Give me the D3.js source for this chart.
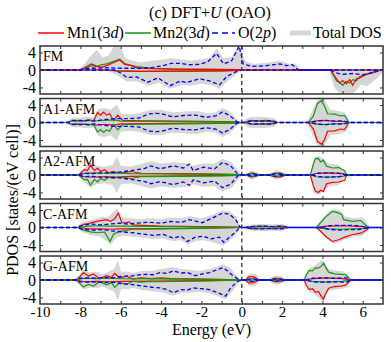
<!DOCTYPE html>
<html>
<head>
<meta charset="utf-8">
<script src="https://cdn.jsdelivr.net/npm/d3@7"></script>
<style>
  body { margin: 0; background: #fff; }
  svg { display: block; font-family: "Liberation Serif", "Times New Roman", serif; }
</style>
</head>
<body>
<svg id="chart" width="391" height="342"></svg>
<script>
// Axis labels / ticks
const panelNames = ['FM', 'A1-AFM', 'A2-AFM', 'C-AFM', 'G-AFM'];
const xTickLabels = [-10, -8, -6, -4, -2, 0, 2, 4, 6];
const yTickLabels = [-4, 0, 4];

// ---- FM ----  [energy, DOS]
const fmMn1Up = [[-8.0,0],[-7.7,0.8],[-7.45,1.4],[-7.2,0.9],[-6.95,0.6],[-6.7,1.0],[-6.45,1.5],[-6.05,2.3],[-5.8,1.3],[-5.45,1.0],[-5.2,0.5],[-4.5,0.3],[-3.4,0.2],[-0.1,0.1],[0,0]];
const fmMn1Dn = [[-6.6,0],[-6.2,-0.2],[-5,-0.3],[-3,-0.25],[-1,-0.2],[-0.2,-0.1],[0,0],[4.4,0],[4.7,-2.0],[4.85,-3.0],[5.0,-2.4],[5.18,-3.2],[5.35,-2.2],[5.5,-3.5],[5.68,-2.0],[5.85,-1.8],[6.1,-1.2],[6.5,-0.5],[6.9,0]];
const fmMn2Up = [[-8.0,0],[-7.7,0.5],[-7.45,1.0],[-7.2,0.8],[-6.95,1.2],[-6.7,1.4],[-6.45,1.8],[-6.05,2.5],[-5.8,1.5],[-5.45,1.0],[-5.2,0.8],[-4.5,0.4],[-3.4,0.2],[-0.1,0.1],[0,0]];
const fmMn2Dn = [[-6.6,0],[-6.2,-0.2],[-5,-0.3],[-3,-0.25],[-1,-0.2],[-0.2,-0.1],[0,0],[4.4,0],[4.7,-2.5],[4.85,-2.8],[5.0,-3.5],[5.18,-2.6],[5.35,-3.0],[5.5,-2.2],[5.68,-2.5],[5.85,-1.5],[6.1,-1.0],[6.5,-0.6],[6.9,0]];
const fmOUp = [[-8.1,0],[-7.8,0.3],[-7.4,0.4],[-6.7,0.5],[-5.9,0.4],[-5.0,0.4],[-4.4,0.6],[-3.9,1.0],[-3.5,1.5],[-3.0,1.5],[-2.6,1.2],[-2.1,1.3],[-1.7,1.8],[-1.25,3.8],[-0.9,1.4],[-0.5,2.1],[-0.13,5.5],[0.07,1.4],[0.5,0.8],[1.2,1.0],[1.9,1.4],[2.2,1.0],[2.5,1.2],[2.7,0.5],[2.8,0]];
const fmODn = [[-6.3,0],[-5.95,-0.8],[-5.7,-1.7],[-5.2,-1.6],[-4.65,-2.8],[-4.15,-1.8],[-3.55,-3.6],[-3.05,-2.5],[-2.75,-2.9],[-2.1,-2.0],[-1.6,-2.5],[-1.1,-3.4],[-0.75,-1.5],[-0.25,-0.3],[0,0],[4.45,0],[4.6,-0.6],[5.0,-1.0],[5.5,-0.8],[6.0,-1.1],[6.5,-0.6],[6.9,0]];
const fmTotUp = [[-8.1,0],[-7.8,1.2],[-7.5,3.0],[-7.2,4.5],[-6.9,2.8],[-6.6,3.2],[-6.3,5.5],[-6.0,5.2],[-5.8,2.6],[-5.4,2.0],[-5.0,1.6],[-4.5,2.0],[-4.0,2.2],[-3.5,2.6],[-3.0,2.3],[-2.5,2.0],[-2.0,2.3],[-1.6,2.6],[-1.25,4.8],[-0.9,2.5],[-0.5,2.8],[-0.15,5.5],[0.05,3.0],[0.2,1.8],[0.6,1.3],[1.2,1.5],[1.9,2.0],[2.3,1.4],[2.7,1.3],[2.85,0]];
const fmTotDn = [[-6.7,0],[-6.2,-1.0],[-5.7,-2.5],[-5.2,-2.5],[-4.65,-3.5],[-4.1,-2.8],[-3.55,-4.2],[-3.0,-3.4],[-2.5,-3.5],[-2.0,-3.0],[-1.5,-3.4],[-1.1,-4.2],[-0.7,-2.4],[-0.3,-1.0],[0,0],[4.35,0],[4.6,-4.0],[4.9,-5.5],[5.3,-5.5],[5.6,-5.0],[5.9,-3.2],[6.2,-3.6],[6.6,-2.2],[6.95,-0.6],[7.0,0]];

// ---- A1-AFM ----
const a1Mn1Up = [[-8.6,0],[-8.4,0.5],[-8.2,0.3],[-8.0,0.5],[-7.8,0.3],[-7.6,0.6],[-7.35,0.4],[-7.15,2.3],[-7.0,1.7],[-6.85,2.4],[-6.7,1.7],[-6.55,2.0],[-6.35,0.4],[-6.15,1.7],[-5.9,0.5],[-5,0.4],[-3,0.3],[-1,0.2],[-0.2,0.1],[0,0],[0.15,0],[0.4,0.5],[0.8,0.4],[1.2,0.5],[1.6,0.3],[1.75,0],[3.3,0],[3.6,0.3],[4.0,0.5],[4.6,0.3],[5.2,0.2],[5.3,0]];
const a1Mn1Dn = [[-8.6,0],[-8.4,-0.5],[-8.2,-0.3],[-8.0,-0.5],[-7.6,-0.4],[-7.2,-0.6],[-6.8,-0.4],[-6.3,-0.6],[-6.0,-0.3],[-3,-0.2],[-0.2,-0.1],[0,0],[0.15,0],[0.5,-0.4],[1.0,-0.3],[1.5,-0.3],[1.75,0],[3.3,0],[3.55,-1.5],[3.75,-4.3],[3.95,-5.0],[4.1,-4.0],[4.25,-2.0],[4.6,-1.9],[4.9,-1.5],[5.1,-1.6],[5.3,0]];
const a1Mn2Up = [[-8.6,0],[-8.4,0.5],[-8.0,0.4],[-7.6,0.5],[-7.2,0.4],[-6.8,0.5],[-6.3,0.6],[-6.0,0.3],[-3,0.2],[-0.2,0.1],[0,0],[0.15,0],[0.5,0.3],[1.2,0.3],[1.75,0],[3.3,0],[3.55,1.5],[3.75,4.3],[3.95,5.0],[4.1,3.8],[4.25,2.0],[4.6,1.9],[4.9,1.5],[5.1,1.6],[5.3,0]];
const a1Mn2Dn = [[-8.6,0],[-8.4,-0.5],[-8.2,-0.3],[-8.0,-0.5],[-7.8,-0.3],[-7.6,-0.6],[-7.35,-0.4],[-7.15,-2.2],[-7.0,-1.6],[-6.85,-2.3],[-6.7,-1.7],[-6.55,-2.0],[-6.35,-0.4],[-6.15,-1.7],[-5.9,-0.5],[-5,-0.4],[-3,-0.3],[-1,-0.2],[-0.2,-0.1],[0,0],[0.15,0],[0.5,-0.4],[1.2,-0.4],[1.75,0],[3.3,0],[3.6,-0.3],[4.0,-0.5],[4.6,-0.3],[5.2,-0.2],[5.3,0]];
const a1OUp = [[-8.6,0],[-8.4,0.4],[-8.2,0.5],[-7.9,0.4],[-7.6,0.5],[-7.3,0.3],[-6.9,0.6],[-6.5,0.8],[-6.2,0.9],[-5.6,0.9],[-5.1,1.0],[-4.6,2.0],[-4.2,2.1],[-3.9,1.9],[-3.4,1.3],[-2.9,1.6],[-2.3,1.7],[-1.8,1.2],[-1.3,1.5],[-0.95,2.4],[-0.6,1.6],[-0.2,0],[0.15,0],[0.5,0.4],[1.0,0.3],[1.5,0.4],[1.75,0],[3.4,0],[3.8,0.4],[4.2,0.5],[4.6,0.3],[5.0,0.4],[5.3,0]];
const a1ODn = [[-8.6,0],[-8.4,-0.4],[-8.2,-0.5],[-7.9,-0.4],[-7.6,-0.5],[-7.3,-0.3],[-6.9,-0.6],[-6.5,-0.8],[-6.2,-0.9],[-5.6,-0.9],[-5.1,-1.0],[-4.6,-2.0],[-4.2,-2.1],[-3.9,-1.9],[-3.4,-1.3],[-2.9,-1.6],[-2.3,-1.7],[-1.8,-1.2],[-1.3,-1.5],[-0.95,-2.4],[-0.6,-1.6],[-0.2,0],[0.15,0],[0.5,-0.4],[1.0,-0.3],[1.5,-0.4],[1.75,0],[3.4,0],[3.8,-0.4],[4.2,-0.5],[4.6,-0.3],[5.0,-0.4],[5.3,0]];
const a1TotUp = [[-8.7,0],[-8.4,1.0],[-8.0,1.0],[-7.6,1.2],[-7.3,1.0],[-7.1,3.0],[-6.8,3.2],[-6.5,2.8],[-6.2,4.0],[-6.0,2.0],[-5.6,1.8],[-5.1,2.0],[-4.5,2.8],[-4.0,2.8],[-3.4,2.2],[-2.8,2.4],[-2.2,2.5],[-1.7,2.0],[-1.3,2.2],[-0.95,3.2],[-0.6,2.4],[-0.3,1.0],[-0.1,0],[0.05,0],[0.3,1.0],[0.7,1.2],[1.2,1.1],[1.6,0.9],[1.8,0],[3.25,0],[3.5,2.5],[3.75,5.0],[4.0,5.5],[4.2,4.2],[4.4,2.8],[4.8,2.5],[5.1,2.2],[5.35,0]];
const a1TotDn = [[-8.7,0],[-8.4,-1.0],[-8.0,-1.0],[-7.6,-1.2],[-7.3,-1.0],[-7.1,-3.0],[-6.8,-3.2],[-6.5,-2.8],[-6.2,-4.0],[-6.0,-2.0],[-5.6,-1.8],[-5.1,-2.0],[-4.5,-2.8],[-4.0,-2.8],[-3.4,-2.2],[-2.8,-2.4],[-2.2,-2.5],[-1.7,-2.0],[-1.3,-2.2],[-0.95,-3.2],[-0.6,-2.4],[-0.3,-1.0],[-0.1,0],[0.05,0],[0.3,-1.0],[0.7,-1.2],[1.2,-1.1],[1.6,-0.9],[1.8,0],[3.25,0],[3.5,-2.5],[3.75,-5.0],[4.0,-5.5],[4.2,-4.2],[4.4,-2.8],[4.8,-2.5],[5.1,-2.2],[5.35,0]];

// ---- A2-AFM ----
const a2Mn1Up = [[-8.1,0],[-7.8,1.2],[-7.65,1.0],[-7.5,2.2],[-7.3,1.0],[-7.15,1.6],[-7.0,0.8],[-6.8,1.2],[-6.6,0.5],[-6.4,0.8],[-6.1,0.5],[-5.8,0.6],[-5.5,0.8],[-5.0,0.4],[-3.0,0.3],[-1,0.2],[-0.2,0.1],[0,0],[0.2,0],[0.5,0.5],[0.9,0],[1.35,0],[1.6,0.4],[1.9,0.5],[2.2,0],[3.4,0],[3.7,0.4],[4.3,0.5],[5.0,0.3],[5.2,0]];
const a2Mn1Dn = [[-8.1,0],[-7.8,-0.4],[-7.3,-0.5],[-6.8,-0.4],[-6.2,-0.5],[-5.5,-0.3],[-3,-0.2],[-0.2,-0.1],[0,0],[0.2,0],[0.5,-0.5],[0.9,0],[1.35,0],[1.6,-0.4],[1.9,-0.5],[2.2,0],[3.4,0],[3.55,-2.5],[3.65,-3.7],[3.8,-4.0],[3.9,-3.5],[4.05,-3.8],[4.2,-2.0],[4.5,-1.7],[4.8,-1.6],[5.1,-1.2],[5.2,0]];
const a2Mn2Up = [[-8.1,0],[-7.8,0.4],[-7.3,0.5],[-6.8,0.4],[-6.2,0.5],[-5.5,0.3],[-3,0.2],[-0.2,0.1],[0,0],[0.2,0],[0.5,0.3],[0.9,0],[1.35,0],[1.7,0.3],[2.2,0],[3.4,0],[3.55,2.5],[3.65,3.7],[3.8,3.8],[3.9,3.0],[4.05,3.4],[4.2,2.0],[4.5,1.6],[4.8,1.7],[5.1,1.0],[5.2,0]];
const a2Mn2Dn = [[-8.1,0],[-7.8,-1.1],[-7.65,-1.0],[-7.5,-2.3],[-7.3,-1.0],[-7.15,-1.6],[-7.0,-0.8],[-6.8,-1.2],[-6.6,-0.5],[-6.4,-0.8],[-6.1,-0.5],[-5.8,-0.6],[-5.5,-0.8],[-5.0,-0.4],[-3,-0.3],[-1,-0.2],[-0.2,-0.1],[0,0],[0.2,0],[0.5,-0.3],[0.9,0],[1.35,0],[1.7,-0.3],[2.2,0],[3.4,0],[3.7,-0.4],[4.3,-0.5],[5.0,-0.3],[5.2,0]];
const a2OUp = [[-8.1,0],[-7.8,0.4],[-7.4,0.3],[-7.0,0.5],[-6.5,0.5],[-6.0,0.7],[-5.5,1.0],[-4.8,1.5],[-4.5,2.1],[-4.05,1.4],[-3.4,2.1],[-2.9,1.6],[-2.6,2.5],[-2.4,1.0],[-1.9,1.8],[-1.35,1.4],[-0.95,2.9],[-0.55,2.1],[-0.2,0.2],[0,0],[0.2,0],[0.5,0.3],[0.9,0],[1.35,0],[1.7,0.3],[2.2,0],[3.5,0],[3.8,0.4],[4.3,0.5],[4.8,0.4],[5.2,0]];
const a2ODn = [[-8.1,0],[-7.8,-0.4],[-7.4,-0.3],[-7.0,-0.5],[-6.5,-0.5],[-6.0,-0.7],[-5.5,-1.0],[-4.8,-1.5],[-4.5,-2.0],[-4.05,-1.5],[-3.4,-2.2],[-2.9,-1.6],[-2.6,-2.4],[-2.4,-1.1],[-1.9,-1.8],[-1.35,-1.4],[-0.95,-2.9],[-0.55,-2.1],[-0.2,-0.2],[0,0],[0.2,0],[0.5,-0.3],[0.9,0],[1.35,0],[1.7,-0.3],[2.2,0],[3.5,0],[3.8,-0.4],[4.3,-0.5],[4.8,-0.4],[5.2,0]];
const a2TotUp = [[-8.1,0],[-7.8,1.5],[-7.5,2.8],[-7.2,2.0],[-6.8,1.8],[-6.4,2.2],[-6.2,4.0],[-6.0,2.0],[-5.5,1.8],[-5.0,2.4],[-4.5,3.0],[-4.0,2.5],[-3.4,2.8],[-2.8,2.6],[-2.4,2.0],[-1.9,2.6],[-1.4,2.4],[-0.95,3.6],[-0.5,2.8],[-0.2,1.0],[0,0],[0.15,0],[0.5,1.0],[0.95,0],[1.3,0],[1.7,1.0],[2.25,0],[3.4,0],[3.6,4.0],[3.8,4.2],[4.0,3.8],[4.3,2.5],[4.8,2.2],[5.2,0]];
const a2TotDn = [[-8.1,0],[-7.8,-1.5],[-7.5,-2.8],[-7.2,-2.0],[-6.8,-1.8],[-6.4,-2.2],[-6.2,-4.0],[-6.0,-2.0],[-5.5,-1.8],[-5.0,-2.4],[-4.5,-3.0],[-4.0,-2.5],[-3.4,-2.8],[-2.8,-2.6],[-2.4,-2.0],[-1.9,-2.6],[-1.4,-2.4],[-0.95,-3.6],[-0.5,-2.8],[-0.2,-1.0],[0,0],[0.15,0],[0.5,-1.0],[0.95,0],[1.3,0],[1.7,-1.0],[2.25,0],[3.4,0],[3.6,-4.2],[3.8,-4.4],[4.0,-3.8],[4.3,-2.5],[4.8,-2.2],[5.2,0]];

// ---- C-AFM ----
const cMn1Up = [[-8.1,0],[-7.85,0.7],[-7.6,0.9],[-7.3,1.3],[-7.05,1.5],[-6.7,1.8],[-6.5,1.4],[-6.3,2.0],[-6.12,3.3],[-5.95,1.2],[-5.8,1.0],[-5.6,1.3],[-5.4,0.6],[-5.0,0.5],[-4.0,0.3],[-2,0.2],[-0.2,0.1],[0,0],[0.15,0],[0.5,0.2],[1.0,0.3],[1.5,0.2],[2.0,0.3],[2.3,0],[3.7,0],[4.2,0.3],[5.0,0.4],[6.0,0.2],[6.3,0]];
const cMn1Dn = [[-8.1,0],[-7.6,-0.3],[-7,-0.3],[-6.5,-0.4],[-6,-0.3],[-3,-0.2],[0,0],[0.15,0],[0.5,-0.3],[1.0,-0.2],[1.5,-0.3],[2.0,-0.2],[2.3,0],[3.7,0],[3.9,-0.8],[4.2,-2.2],[4.5,-3.2],[4.8,-2.8],[5.1,-2.2],[5.5,-1.6],[5.9,-1.3],[6.2,-0.5],[6.3,0]];
const cMn2Up = [[-8.1,0],[-7.6,0.3],[-7,0.4],[-6.5,0.3],[-6,0.3],[-3,0.2],[0,0],[0.15,0],[0.6,0.2],[1.5,0.2],[2.3,0],[3.7,0],[3.85,0.8],[4.2,2.6],[4.5,3.7],[4.75,3.4],[4.95,3.0],[5.05,1.8],[5.5,1.4],[5.9,1.6],[6.2,0.3],[6.3,0]];
const cMn2Dn = [[-8.1,0],[-7.85,-0.6],[-7.5,-1.0],[-7.1,-1.2],[-6.8,-1.0],[-6.53,-3.2],[-6.35,-1.5],[-6.1,-1.0],[-5.8,-0.7],[-5.4,-0.4],[-4,-0.3],[-2,-0.2],[0,0],[0.15,0],[0.6,-0.2],[1.5,-0.2],[2.3,0],[3.7,0],[4.2,-0.3],[5.0,-0.4],[6.0,-0.2],[6.3,0]];
const cOUp = [[-8.2,0],[-7.9,0.5],[-7.5,0.8],[-7.0,0.6],[-6.5,0.8],[-6.1,1.0],[-5.7,0.8],[-5.2,1.0],[-4.6,1.2],[-4.0,1.0],[-3.5,1.4],[-3.0,1.2],[-2.6,1.8],[-1.95,1.1],[-1.45,2.2],[-0.95,3.3],[-0.6,3.0],[-0.3,1.8],[-0.1,0.2],[0,0],[0.15,0],[0.5,0.2],[1.0,0.3],[1.5,0.2],[2.0,0.3],[2.3,0],[4.0,0],[4.3,0.4],[4.8,0.5],[5.3,0.5],[5.8,0.4],[6.3,0]];
const cODn = [[-8.2,0],[-7.9,-0.4],[-7.4,-0.6],[-6.9,-0.5],[-6.4,-0.8],[-5.9,-1.0],[-5.4,-1.2],[-4.9,-1.5],[-4.4,-1.8],[-3.9,-1.6],[-3.4,-2.4],[-3.0,-2.0],[-2.7,-3.2],[-2.3,-2.2],[-1.9,-2.0],[-1.5,-2.6],[-1.1,-2.2],[-0.9,-3.4],[-0.6,-2.2],[-0.3,-1.0],[-0.1,0],[0.15,0],[0.5,-0.2],[1.0,-0.3],[1.5,-0.2],[2.0,-0.3],[2.3,0],[4.0,0],[4.3,-0.4],[4.8,-0.6],[5.3,-0.5],[5.8,-0.5],[6.3,0]];
const cTotUp = [[-8.2,0],[-7.9,1.2],[-7.5,1.6],[-7.0,2.2],[-6.6,2.4],[-6.2,4.2],[-5.9,2.2],[-5.5,2.0],[-5.0,1.8],[-4.5,2.0],[-4.0,1.8],[-3.5,2.2],[-3.0,2.0],[-2.6,2.5],[-2.0,2.0],[-1.45,2.8],[-0.95,3.8],[-0.6,3.6],[-0.3,2.4],[-0.1,0],[0.1,0],[0.5,0.6],[1.0,0.7],[1.5,0.6],[2.0,0.7],[2.35,0],[3.7,0],[4.0,2.0],[4.3,3.5],[4.55,4.2],[4.9,3.7],[5.1,2.4],[5.6,2.0],[6.0,2.2],[6.35,0]];
const cTotDn = [[-8.2,0],[-7.9,-1.0],[-7.5,-1.6],[-7.0,-2.0],[-6.5,-3.8],[-6.2,-2.2],[-5.9,-1.8],[-5.4,-2.0],[-4.9,-2.2],[-4.4,-2.6],[-3.9,-2.4],[-3.4,-3.0],[-3.0,-2.8],[-2.7,-3.8],[-2.3,-3.0],[-1.9,-2.8],[-1.5,-3.2],[-0.9,-4.0],[-0.6,-3.0],[-0.3,-1.6],[-0.1,0],[0.1,0],[0.5,-0.6],[1.0,-0.7],[1.5,-0.6],[2.0,-0.7],[2.35,0],[3.7,0],[4.0,-1.6],[4.3,-2.8],[4.55,-3.6],[4.9,-3.2],[5.1,-2.6],[5.6,-2.0],[6.0,-1.8],[6.35,0]];

// ---- G-AFM ----
const gMn1Up = [[-8.2,0],[-8.0,0.9],[-7.85,1.7],[-7.6,0.9],[-7.35,1.4],[-7.05,0.3],[-6.7,1.0],[-6.45,0.6],[-6.3,1.5],[-6.05,0.5],[-5.7,0.9],[-5.4,0.2],[-5.0,0.5],[-4.5,0.3],[-4.0,0.5],[-3.5,0.3],[-1.5,0.2],[0,0],[0.2,0],[0.35,0.8],[0.6,0.7],[0.85,0],[1.4,0],[1.6,0.4],[1.9,0.4],[2.15,0],[3.1,0],[3.5,0.3],[4.2,0.5],[5.0,0.3],[5.4,0]];
const gMn1Dn = [[-8.2,0],[-7.8,-0.4],[-7.2,-0.3],[-6.6,-0.4],[-6,-0.3],[-3,-0.2],[0,0],[0.2,0],[0.35,-0.7],[0.6,-0.6],[0.85,0],[1.4,0],[1.6,-0.4],[1.9,-0.4],[2.15,0],[3.1,0],[3.2,-1.2],[3.35,-2.2],[3.5,-2.0],[3.65,-2.8],[3.8,-2.6],[3.95,-3.8],[4.05,-4.4],[4.15,-3.2],[4.3,-1.9],[4.6,-1.5],[4.9,-1.4],[5.15,-1.2],[5.4,0]];
const gMn2Up = [[-8.2,0],[-7.8,0.4],[-7.2,0.3],[-6.6,0.4],[-6,0.3],[-3,0.2],[0,0],[0.2,0],[0.5,0.3],[0.85,0],[1.4,0],[1.7,0.2],[2.15,0],[3.1,0],[3.2,1.2],[3.35,2.2],[3.5,2.1],[3.65,2.8],[3.8,2.7],[3.95,3.2],[4.05,3.9],[4.15,3.0],[4.3,1.8],[4.6,1.4],[4.9,1.3],[5.15,1.2],[5.4,0]];
const gMn2Dn = [[-8.2,0],[-8.0,-0.9],[-7.85,-1.6],[-7.6,-1.0],[-7.35,-1.4],[-7.05,-0.4],[-6.7,-1.1],[-6.45,-0.6],[-6.3,-1.7],[-6.05,-0.6],[-5.7,-1.0],[-5.4,-0.3],[-5.0,-0.5],[-4.5,-0.3],[-4.0,-0.4],[-3.5,-0.3],[-1.5,-0.2],[0,0],[0.2,0],[0.5,-0.3],[0.85,0],[1.4,0],[1.7,-0.2],[2.15,0],[3.1,0],[3.5,-0.3],[4.2,-0.5],[5.0,-0.3],[5.4,0]];
const gOUp = [[-8.3,0],[-8.0,0.4],[-7.6,0.5],[-7.2,0.4],[-6.8,0.6],[-6.4,0.5],[-6.0,0.8],[-5.5,0.9],[-4.9,1.3],[-4.4,1.2],[-4.05,1.7],[-3.7,1.5],[-3.4,2.1],[-3.0,1.6],[-2.7,1.7],[-2.3,1.0],[-2.05,1.3],[-1.6,1.7],[-1.2,2.4],[-0.95,2.8],[-0.7,2.1],[-0.5,1.2],[-0.2,0.3],[0,0],[0.2,0],[0.5,0.3],[0.85,0],[1.4,0],[1.7,0.3],[2.15,0],[3.2,0],[3.5,0.4],[4.0,0.5],[4.6,0.4],[5.2,0.5],[5.4,0]];
const gODn = [[-8.3,0],[-8.0,-0.4],[-7.6,-0.5],[-7.2,-0.4],[-6.8,-0.6],[-6.4,-0.5],[-6.0,-0.8],[-5.5,-1.0],[-4.9,-1.4],[-4.4,-1.7],[-4.05,-1.8],[-3.7,-2.2],[-3.4,-2.9],[-3.0,-2.2],[-2.7,-2.3],[-2.4,-1.8],[-2.0,-2.0],[-1.6,-2.2],[-1.2,-2.9],[-0.8,-3.7],[-0.55,-1.8],[-0.2,-0.3],[0,0],[0.2,0],[0.5,-0.3],[0.85,0],[1.4,0],[1.7,-0.3],[2.15,0],[3.2,0],[3.5,-0.4],[4.0,-0.5],[4.6,-0.4],[5.2,-0.5],[5.4,0]];
const gTotUp = [[-8.3,0],[-8.0,1.3],[-7.85,2.2],[-7.5,1.6],[-7.2,1.8],[-6.9,1.2],[-6.6,1.8],[-6.3,2.5],[-6.15,4.2],[-6.0,1.8],[-5.7,1.8],[-5.4,1.5],[-4.9,2.0],[-4.4,2.0],[-4.0,2.4],[-3.4,2.8],[-3.0,2.4],[-2.6,2.2],[-2.0,2.0],[-1.6,2.4],[-1.2,3.0],[-0.95,3.5],[-0.6,2.8],[-0.3,1.0],[-0.1,0],[0.15,0],[0.4,1.4],[0.7,1.2],[0.9,0],[1.35,0],[1.6,0.9],[1.9,0.9],[2.2,0],[3.05,0],[3.3,2.4],[3.6,3.2],[4.0,4.5],[4.3,2.4],[4.7,2.0],[5.1,1.8],[5.45,0]];
const gTotDn = [[-8.3,0],[-8.0,-1.2],[-7.85,-2.0],[-7.5,-1.6],[-7.2,-1.8],[-6.9,-1.4],[-6.6,-2.0],[-6.3,-2.6],[-6.15,-4.3],[-6.0,-2.0],[-5.7,-2.0],[-5.4,-1.7],[-4.9,-2.2],[-4.4,-2.5],[-4.0,-2.6],[-3.4,-3.5],[-3.0,-2.9],[-2.6,-2.8],[-2.0,-2.6],[-1.6,-2.9],[-1.2,-3.6],[-0.8,-4.3],[-0.5,-2.6],[-0.2,-0.8],[-0.1,0],[0.15,0],[0.4,-1.3],[0.7,-1.2],[0.9,0],[1.35,0],[1.6,-0.9],[1.9,-0.9],[2.2,0],[3.05,0],[3.3,-2.4],[3.6,-3.2],[4.0,-4.8],[4.3,-2.4],[4.7,-2.0],[5.1,-1.8],[5.45,0]];

// Table built from the arrays above (mnFirst = which Mn is drawn underneath)
const panels = [
  { name: panelNames[0], tot: [fmTotUp, fmTotDn], mn1: [fmMn1Up, fmMn1Dn], mn2: [fmMn2Up, fmMn2Dn], o: [fmOUp, fmODn], mnFirst: 'mn2' },
  { name: panelNames[1], tot: [a1TotUp, a1TotDn], mn1: [a1Mn1Up, a1Mn1Dn], mn2: [a1Mn2Up, a1Mn2Dn], o: [a1OUp, a1ODn], mnFirst: 'mn1' },
  { name: panelNames[2], tot: [a2TotUp, a2TotDn], mn1: [a2Mn1Up, a2Mn1Dn], mn2: [a2Mn2Up, a2Mn2Dn], o: [a2OUp, a2ODn], mnFirst: 'mn1' },
  { name: panelNames[3], tot: [cTotUp, cTotDn], mn1: [cMn1Up, cMn1Dn], mn2: [cMn2Up, cMn2Dn], o: [cOUp, cODn], mnFirst: 'mn1' },
  { name: panelNames[4], tot: [gTotUp, gTotDn], mn1: [gMn1Up, gMn1Dn], mn2: [gMn2Up, gMn2Dn], o: [gOUp, gODn], mnFirst: 'mn1' }
];

const colors = { mn1: '#ff0000', mn2: '#109a10', o: '#0000ff', tot: '#d6d6d6', frame: '#333' };

const svg = d3.select('#chart');
const plotLeft = 40, plotRight = 383;
const firstTop = 46, panelH = 48, panelStep = 52.5;

const x = d3.scaleLinear().domain([-10, 7]).range([plotLeft, plotRight]);

// pad a series with zeros at both ends of the energy axis
function padded(arr) {
  const [e0, e1] = x.domain();
  return [[e0, 0], ...arr, [e1, 0]];
}

panels.forEach((p, i) => {
  const top = firstTop + i * panelStep;
  const y = d3.scaleLinear().domain([-5.5, 5.5]).range([top + panelH, top]);
  const g = svg.append('g');

  const clipId = 'clip' + i;
  svg.append('clipPath').attr('id', clipId)
    .append('rect').attr('x', plotLeft).attr('y', top).attr('width', plotRight - plotLeft).attr('height', panelH);

  const data = g.append('g').attr('clip-path', `url(#${clipId})`);

  const area = d3.area().x(d => x(d[0])).y0(y(0)).y1(d => y(d[1]));
  const line = d3.line().x(d => x(d[0])).y(d => y(d[1]));

  // total DOS (gray fill)
  p.tot.forEach(s => {
    data.append('path').attr('d', area(padded(s)))
      .attr('fill', colors.tot).attr('stroke', colors.tot).attr('stroke-width', 1);
  });

  // Mn lines
  const order = p.mnFirst === 'mn1' ? ['mn1', 'mn2'] : ['mn2', 'mn1'];
  order.forEach(k => {
    p[k].forEach(s => {
      data.append('path').attr('d', line(padded(s)))
        .attr('fill', 'none').attr('stroke', colors[k]).attr('stroke-width', 1.2);
    });
  });

  // O(2p) dashed
  p.o.forEach(s => {
    data.append('path').attr('d', line(padded(s)))
      .attr('fill', 'none').attr('stroke', colors.o).attr('stroke-width', 1.3)
      .attr('stroke-dasharray', '4,2.5');
  });

  // Fermi level
  g.append('line')
    .attr('x1', x(0)).attr('x2', x(0)).attr('y1', top).attr('y2', top + panelH)
    .attr('stroke', '#333').attr('stroke-width', 1.3).attr('stroke-dasharray', '4,3');

  // inward ticks
  const minor = d3.range(-9, 7, 1);
  g.append('g').attr('transform', `translate(0,${top + panelH})`)
    .call(d3.axisBottom(x).tickValues(minor).tickSize(-3).tickFormat(''));
  g.append('g').attr('transform', `translate(0,${top})`)
    .call(d3.axisTop(x).tickValues(minor).tickSize(-3).tickFormat(''));
  g.append('g').attr('transform', `translate(${plotLeft},0)`)
    .call(d3.axisLeft(y).tickValues(yTickLabels).tickSize(-3).tickPadding(4).tickFormat(d => String(d)));
  g.append('g').attr('transform', `translate(${plotRight},0)`)
    .call(d3.axisRight(y).tickValues(yTickLabels).tickSize(-3).tickFormat(''));

  g.selectAll('.domain').remove();
  g.selectAll('.tick line').attr('stroke', colors.frame).attr('stroke-width', 1);
  g.selectAll('.tick text').attr('font-family', 'Liberation Serif').attr('font-size', 16).attr('fill', '#000');

  // frame
  g.append('rect').attr('x', plotLeft).attr('y', top).attr('width', plotRight - plotLeft).attr('height', panelH)
    .attr('fill', 'none').attr('stroke', colors.frame).attr('stroke-width', 1.5);

  // panel label
  g.append('text').attr('x', plotLeft + 3).attr('y', top + 15)
    .attr('font-size', 14).text(p.name);

  // x tick labels under last panel
  if (i === panels.length - 1) {
    const xa = g.append('g').attr('transform', `translate(0,${top + panelH})`)
      .call(d3.axisBottom(x).tickValues(xTickLabels).tickSize(0).tickPadding(2).tickFormat(d => String(d)));
    xa.select('.domain').remove();
    xa.selectAll('text').attr('font-family', 'Liberation Serif').attr('font-size', 15).attr('fill', '#000');
  }
});

// axis titles
svg.append('text').attr('x', (plotLeft + plotRight) / 2).attr('y', 335)
  .attr('text-anchor', 'middle').attr('font-size', 16).text('Energy (eV)');
svg.append('text').attr('transform', 'translate(18,200) rotate(-90)')
  .attr('text-anchor', 'middle').attr('font-size', 16).text('PDOS [states/(eV cell)]');

// title
const title = svg.append('text').attr('x', 210).attr('y', 18).attr('text-anchor', 'middle').attr('font-size', 16);
title.append('tspan').text('(c) DFT+');
title.append('tspan').attr('font-style', 'italic').text('U');
title.append('tspan').text(' (OAO)');

// legend
const legendItems = [
  { key: 'mn1', x0: 38, x1: 64, tx: 67, label: ['Mn1(3', 'd', ')'] },
  { key: 'mn2', x0: 125, x1: 151, tx: 153, label: ['Mn2(3', 'd', ')'] },
  { key: 'o', x0: 212, x1: 235, tx: 238, label: ['O(2', 'p', ')'] },
  { key: 'tot', x0: 290, x1: 311, tx: 313, label: ['Total DOS', '', ''] }
];
const lg = svg.append('g');
legendItems.forEach(it => {
  const ln = lg.append('line').attr('x1', it.x0).attr('x2', it.x1).attr('y1', 33).attr('y2', 33)
    .attr('stroke', colors[it.key]);
  if (it.key === 'o') ln.attr('stroke-width', 1.5).attr('stroke-dasharray', '6,4');
  else if (it.key === 'tot') ln.attr('stroke-width', 5);
  else ln.attr('stroke-width', 1.5);
  const t = lg.append('text').attr('x', it.tx).attr('y', 38).attr('font-size', 16);
  t.append('tspan').text(it.label[0]);
  if (it.label[1]) t.append('tspan').attr('font-style', 'italic').text(it.label[1]);
  if (it.label[2]) t.append('tspan').text(it.label[2]);
});
</script>
</body>
</html>
